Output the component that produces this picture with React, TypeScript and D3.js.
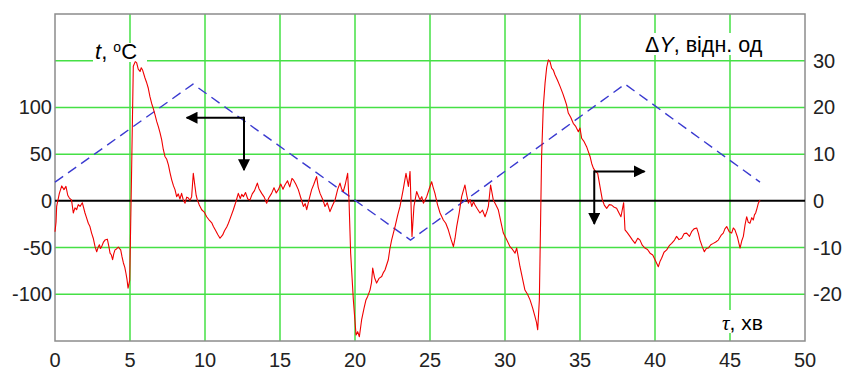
import React from "react";
import * as d3 from "d3";

// blue dashed line: temperature program, °C (left axis)
const blueTime = [0, 9.2, 23.7, 38, 47];
const blueTemp = [20, 125, -42, 125, 20];

// red trace: [time, ΔY] in min and relative units (right axis)
const redTrace: [number, number][] = [
  [0, -6.6], [0.07, -4.5], [0.11, -1.2], [0.29, 1.6], [0.45, 3.2], [0.6, 2.4], [0.73, 3.1], [0.85, 1.2],
  [0.96, 0.6], [1.1, 0.2], [1.22, -2.6], [1.33, -1.5], [1.44, -1.9], [1.55, -0.8], [1.67, -1.2], [1.82, -0.4],
  [2.0, -2.6], [2.1, -3.6], [2.22, -4.8], [2.33, -5.5], [2.44, -6.9], [2.55, -8.0], [2.67, -9.8], [2.78, -10.9],
  [2.88, -9.9], [2.96, -9.4], [3.03, -10.2], [3.11, -9.8], [3.22, -8.9], [3.33, -8.4], [3.49, -8.2], [3.58, -9.6],
  [3.67, -11.2], [3.76, -11.6], [3.84, -12.6], [3.92, -11.3], [4.0, -10.5], [4.1, -10.3], [4.22, -9.9], [4.38, -10.5],
  [4.47, -12.0], [4.56, -13.3], [4.65, -14.2], [4.73, -15.5], [4.8, -16.8], [4.87, -18.7], [4.98, -17.0],
  [5.1, 5.0], [5.22, 28.8], [5.35, 29.8], [5.44, 29.6], [5.55, 28.2], [5.67, 27.7], [5.75, 28.5], [5.84, 28.0],
  [6.0, 26.3], [6.1, 25.4], [6.22, 24.1], [6.33, 22.3], [6.44, 20.9], [6.55, 19.8], [6.67, 18.4], [6.78, 17.0],
  [6.89, 15.9], [7.0, 14.6], [7.11, 13.1], [7.22, 11.0], [7.33, 9.5], [7.45, 8.9], [7.56, 7.7], [7.67, 6.0],
  [7.78, 4.5], [7.9, 3.2], [8.0, 2.4], [8.11, 0.9], [8.22, 1.5], [8.33, 0.4], [8.44, 1.6], [8.55, 0.2],
  [8.67, -0.5], [8.78, 0.8], [8.89, 0.6], [9.0, 0.1], [9.11, 0.9], [9.22, 5.9], [9.33, 3.1], [9.41, 1.2],
  [9.49, 0.2], [9.62, -0.9], [9.78, -1.9], [9.95, -2.4], [10.11, -3.4], [10.3, -4.2], [10.45, -4.7], [10.56, -5.5],
  [10.7, -6.3], [10.85, -7.2], [11.0, -8.0], [11.1, -7.6], [11.18, -7.3], [11.3, -6.4], [11.45, -5.6], [11.56, -4.8],
  [11.7, -3.6], [11.89, -1.9], [12.05, -0.3], [12.22, 1.6], [12.35, 0.5], [12.45, 1.4], [12.56, 0.9],
  [12.7, 1.8], [12.85, 0.4], [13.0, 0.2], [13.15, 1.5], [13.3, 2.2], [13.49, 3.8], [13.6, 2.6], [13.78, 1.6],
  [13.95, 0.8], [14.11, -0.5], [14.25, 0.6], [14.44, 1.6], [14.6, 2.8], [14.75, 1.7], [14.89, 2.4],
  [15.05, 3.6], [15.2, 2.5], [15.33, 3.4], [15.5, 4.3], [15.65, 3.0], [15.8, 4.8], [15.89, 4.5], [16.05, 3.6],
  [16.22, 2.4], [16.4, 0.5], [16.56, -1.2], [16.68, -0.6], [16.78, -1.9], [16.95, 0.4], [17.11, 2.4], [17.25, 3.5],
  [17.44, 5.2], [17.55, 2.9], [17.67, 1.6], [17.85, 0.3], [18.0, -1.2], [18.15, -0.4], [18.33, -2.3],
  [18.5, -1.0], [18.67, 0.2], [18.85, 2.5], [19.0, 3.8], [19.1, 2.6], [19.22, 2.0], [19.35, 3.5], [19.51, 5.9],
  [19.6, 0.2], [19.71, -11.2], [19.89, -21.2], [20.07, -28.7], [20.18, -28.0], [20.29, -29.1], [20.44, -25.5],
  [20.6, -23.0], [20.73, -21.2], [20.85, -20.4], [21.0, -19.1], [21.1, -17.5], [21.18, -14.4], [21.3, -16.4],
  [21.44, -17.6], [21.6, -16.6], [21.78, -16.2], [21.9, -15.3], [22.0, -14.8], [22.22, -12.6], [22.33, -10.2],
  [22.44, -8.4], [22.55, -7.0], [22.67, -5.5], [22.85, -3.0], [23.0, -1.2], [23.2, 2.2], [23.4, 5.9],
  [23.56, 3.1], [23.67, 6.3], [23.8, -7.6], [23.93, -1.2], [24.11, 2.0], [24.22, 1.1], [24.33, 0.2], [24.45, 0.9],
  [24.56, -0.5], [24.78, 0.9], [24.95, 2.6], [25.11, 4.1], [25.2, 3.0], [25.33, 1.6], [25.5, -0.8], [25.67, -2.6],
  [25.89, -4.1], [26.05, -4.8], [26.22, -6.2], [26.4, -8.2], [26.56, -9.8], [26.67, -8.0], [26.78, -5.5],
  [26.95, -2.5], [27.11, 0.9], [27.33, 3.4], [27.45, 1.2], [27.56, -0.5], [27.67, 0.3], [27.78, -1.2], [27.9, -0.2],
  [28.0, -0.9], [28.15, -1.7], [28.33, -2.6], [28.5, -2.0], [28.67, -3.4], [28.8, -2.2], [28.89, -1.2], [29.04, 3.4],
  [29.22, 0.2], [29.38, -0.8], [29.55, -1.9], [29.7, -4.1], [29.89, -6.9], [30.1, -8.2], [30.33, -9.8],
  [30.5, -10.4], [30.67, -11.2], [30.78, -10.1], [31.0, -14.1], [31.15, -16.4], [31.33, -19.1], [31.5, -20.0],
  [31.67, -21.2], [31.85, -23.0], [32.0, -24.8], [32.1, -26.0], [32.18, -27.6], [32.29, -21.2], [32.44, 9.5],
  [32.55, 20.0], [32.67, 25.2], [32.78, 28.6], [32.89, 30.2], [33.0, 29.8], [33.11, 28.4], [33.22, 28.0],
  [33.33, 27.0], [33.5, 25.8], [33.67, 24.5], [33.85, 23.0], [34.0, 21.6], [34.1, 20.6], [34.22, 18.8],
  [34.38, 17.9], [34.55, 16.6], [34.7, 16.0], [34.89, 14.8], [35.0, 15.6], [35.11, 13.4], [35.25, 12.8],
  [35.44, 11.6], [35.55, 10.6], [35.67, 9.5], [35.78, 8.0], [35.89, 7.0], [36.05, 6.2], [36.18, 5.9],
  [36.33, 3.1], [36.49, 0.2], [36.62, -0.9], [36.78, -1.6], [36.95, -0.8], [37.11, -0.9], [37.25, -1.3],
  [37.44, -1.6], [37.6, -2.6], [37.73, -3.4], [37.91, -0.4], [38.0, -6.2], [38.15, -6.8], [38.33, -7.6],
  [38.5, -8.4], [38.67, -9.1], [38.85, -8.0], [39.0, -8.4], [39.15, -9.5], [39.33, -10.1], [39.5, -10.4],
  [39.67, -11.2], [39.85, -11.6], [40.0, -12.6], [40.22, -14.1], [40.33, -13.0], [40.44, -12.3], [40.6, -11.0],
  [40.78, -10.5], [40.95, -9.6], [41.11, -9.1], [41.3, -8.4], [41.44, -7.6], [41.6, -8.3], [41.78, -8.0],
  [41.95, -7.0], [42.11, -6.9], [42.3, -7.6], [42.44, -6.6], [42.6, -6.0], [42.78, -5.8], [42.9, -7.0],
  [43.0, -8.4], [43.15, -9.8], [43.29, -10.9], [43.42, -10.2], [43.55, -10.1], [43.72, -9.4], [43.89, -9.1],
  [44.05, -8.8], [44.22, -8.4], [44.4, -7.4], [44.55, -6.9], [44.66, -6.0], [44.78, -5.5], [44.95, -6.6],
  [45.11, -6.9], [45.22, -5.8], [45.33, -6.2], [45.5, -7.8], [45.67, -10.1], [45.78, -8.6], [45.89, -7.6],
  [46.0, -5.2], [46.11, -3.4], [46.22, -4.6], [46.33, -4.8], [46.45, -3.6], [46.55, -4.1], [46.63, -3.0],
  [46.71, -2.6], [46.8, -1.6], [46.89, -0.5], [47.0, 0.2],
];

const xTicks = [0, 5, 10, 15, 20, 25, 30, 35, 40, 45, 50];
const leftTicks = [-100, -50, 0, 50, 100];
const rightTicks = [-20, -10, 0, 10, 20, 30];
const gridTemps = [-100, -50, 50, 100, 150];

// arrow annotations: corner and tips, in axis units
const leftArrow = { t: 12.6, temp: 89, tipT: 8.78, tipTemp: 33 };
const rightArrow = { t: 35.95, dy: 6.3, tipT: 39.3, tipDy: -4.9 };

const W = 845;
const H = 370;
const x = d3.scaleLinear().domain([0, 50]).range([55, 805]);
const yL = d3.scaleLinear().domain([-150, 200]).range([341, 14]);
const yR = d3.scaleLinear().domain([-30, 40]).range([341, 14]);

const font = "'Liberation Sans', Arial, sans-serif";
const green = "#45e045";

export default function App() {
  const redLine = d3
    .line<[number, number]>()
    .x((d) => x(d[0]))
    .y((d) => yR(d[1]))(redTrace);
  const blueLine = d3
    .line<number>()
    .x((_, i) => x(blueTime[i]))
    .y((d) => yL(d))(blueTemp);

  const [x0, x1] = x.range();
  const [yb, yt] = yL.range();

  return (
    <svg width={W} height={H} style={{ position: "absolute", left: 0, top: 0 }}>
      <defs>
        <marker id="head" viewBox="0 0 10 10" refX="9" refY="5" markerWidth="6" markerHeight="6" orient="auto">
          <path d="M0,0 L10,5 L0,10 z" fill="#000" />
        </marker>
      </defs>
      <rect x={0} y={0} width={W} height={H} fill="#fff" />

      {/* grid */}
      {xTicks.slice(1, -1).map((t) => (
        <line key={"vx" + t} x1={x(t)} x2={x(t)} y1={yt} y2={yb} stroke={green} strokeWidth={1.5} />
      ))}
      {gridTemps.map((v) => (
        <line key={"hy" + v} x1={x0} x2={x1} y1={yL(v)} y2={yL(v)} stroke={green} strokeWidth={1.5} />
      ))}
      <rect x={x0} y={yt} width={x1 - x0} height={yb - yt} fill="none" stroke="#8c8c8c" strokeWidth={1.5} />

      {/* label backgrounds */}
      <rect x={93} y={43} width={54} height={19} fill="#fff" />
      <rect x={641} y={33} width={140} height={22} fill="#fff" />
      <rect x={716} y={310} width={64} height={23} fill="#fff" />

      <line x1={x0} x2={x1} y1={yL(0)} y2={yL(0)} stroke="#000" strokeWidth={2} />

      <path d={blueLine ?? ""} fill="none" stroke="#3a3ad0" strokeWidth={1.4} strokeDasharray="10,6" />
      <path d={redLine ?? ""} fill="none" stroke="#f00000" strokeWidth={1.1} strokeLinejoin="round" />

      {/* arrows */}
      <g stroke="#000" strokeWidth={2} fill="none">
        <line x1={x(leftArrow.t)} y1={yL(leftArrow.temp)} x2={x(leftArrow.tipT)} y2={yL(leftArrow.temp)} markerEnd="url(#head)" />
        <line x1={x(leftArrow.t)} y1={yL(leftArrow.temp) - 1} x2={x(leftArrow.t)} y2={yL(leftArrow.tipTemp)} markerEnd="url(#head)" />
        <line x1={x(rightArrow.t)} y1={yR(rightArrow.dy)} x2={x(rightArrow.tipT)} y2={yR(rightArrow.dy)} markerEnd="url(#head)" />
        <line x1={x(rightArrow.t)} y1={yR(rightArrow.dy) - 1} x2={x(rightArrow.t)} y2={yR(rightArrow.tipDy)} markerEnd="url(#head)" />
      </g>

      {/* tick labels */}
      <g fontFamily={font} fontSize={20} fill="#222">
        {leftTicks.map((v) => (
          <text key={"l" + v} x={52} y={yL(v)} textAnchor="end" dominantBaseline="central">
            {v}
          </text>
        ))}
        {rightTicks.map((v) => (
          <text key={"r" + v} x={813} y={yR(v)} textAnchor="start" dominantBaseline="central">
            {v}
          </text>
        ))}
        {xTicks.map((v) => (
          <text key={"b" + v} x={x(v)} y={367} textAnchor="middle">
            {v}
          </text>
        ))}
      </g>

      {/* axis titles */}
      <g fontFamily={font} fontSize={22} fill="#000">
        <text x={95} y={59}>
          <tspan fontStyle="italic">t</tspan>
          <tspan>, </tspan>
          <tspan fontSize={14} dy={-7}>o</tspan>
          <tspan dy={7}>C</tspan>
        </text>
        <text x={645} y={52} fontSize={21.5}>
          <tspan>Δ</tspan>
          <tspan fontStyle="italic">Y</tspan>
          <tspan>, відн. од</tspan>
        </text>
        <text x={722} y={330} fontSize={21}>
          <tspan fontStyle="italic" fontFamily="'Liberation Serif', serif">τ</tspan>
          <tspan>, хв</tspan>
        </text>
      </g>
    </svg>
  );
}
